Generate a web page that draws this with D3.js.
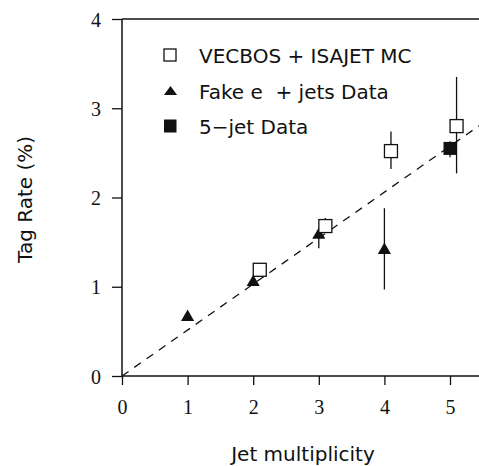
<!DOCTYPE html>
<html>
<head>
<meta charset="utf-8">
<script src="https://cdn.jsdelivr.net/npm/d3@7"></script>
<style>
  html, body { margin: 0; padding: 0; background: #fff; }
  svg { display: block; }
</style>
</head>
<body>
<svg id="chart" width="479" height="466"></svg>
<script>
// Tag rate vs. jet multiplicity
const xTicks = [0, 1, 2, 3, 4, 5];
const yTicks = [0, 1, 2, 3, 4];

// VECBOS + ISAJET Monte Carlo (open squares)
const mcX    = [2.1, 3.1, 4.1, 5.1];
const mcY    = [1.19, 1.68, 2.52, 2.80];
const mcLo   = [1.19, 1.68, 2.32, 2.27];
const mcHi   = [1.19, 1.77, 2.74, 3.35];

// Fake e + jets data (filled triangles)
const fakeX  = [1, 2, 3, 4];
const fakeY  = [0.66, 1.05, 1.58, 1.41];
const fakeLo = [0.66, 1.05, 1.43, 0.97];
const fakeHi = [0.66, 1.05, 1.58, 1.88];

// 5-jet data (filled square)
const fiveX  = [5.0];
const fiveY  = [2.55];
const fiveLo = [2.45];
const fiveHi = [2.63];

// Fitted line through the origin
const fitSlope = 0.515;

const legendLabels = ["VECBOS + ISAJET MC", "Fake e  + jets Data", "5\u2212jet Data"];

const svg = d3.select("#chart");
const pLeft = 122, pTop = 19, pBottom = 376, pRight = 479;
const x = d3.scaleLinear().domain([0, (pRight - pLeft) / 65.6]).range([pLeft, pRight]);
const y = d3.scaleLinear().domain([0, 4]).range([pBottom, pTop]);

const ink = "#111";
const serif = "'Liberation Serif', 'Times New Roman', serif";
const sans = "'DejaVu Sans', sans-serif";

// axes
const xAxis = d3.axisBottom(x).tickValues(xTicks).tickSize(9).tickFormat(d3.format("d"));
const yAxis = d3.axisLeft(y).tickValues(yTicks).tickSize(10).tickFormat(d3.format("d"));

const gx = svg.append("g").attr("transform", `translate(0,${pBottom})`).call(xAxis);
const gy = svg.append("g").attr("transform", `translate(${pLeft},0)`).call(yAxis);
[gx, gy].forEach(g => {
  g.select(".domain").remove();
  g.selectAll("line").attr("stroke", ink).attr("stroke-width", 1.3);
  g.selectAll("text").attr("fill", ink).attr("font-family", serif).attr("font-size", 20);
});
gx.selectAll("text").attr("dy", "1.3em");
gy.selectAll("text").attr("x", -21).attr("dy", "0.35em");

// frame: left, bottom, top
svg.append("line").attr("x1", pLeft).attr("x2", pLeft).attr("y1", pTop).attr("y2", pBottom)
  .attr("stroke", ink).attr("stroke-width", 1.5);
svg.append("line").attr("x1", pLeft).attr("x2", pRight).attr("y1", pBottom).attr("y2", pBottom)
  .attr("stroke", ink).attr("stroke-width", 1.5);
svg.append("line").attr("x1", pLeft).attr("x2", pRight).attr("y1", pTop).attr("y2", pTop)
  .attr("stroke", ink).attr("stroke-width", 1.5);

// fit line
const xEnd = x.domain()[1];
svg.append("line")
  .attr("x1", x(0)).attr("y1", y(0))
  .attr("x2", x(xEnd)).attr("y2", y(fitSlope * xEnd))
  .attr("stroke", ink).attr("stroke-width", 1.3)
  .attr("stroke-dasharray", "8,7");

const plot = svg.append("g");

function errorBars(xs, lo, hi) {
  plot.selectAll(null).data(xs.map((d, i) => i).filter(i => hi[i] > lo[i]))
    .enter().append("line")
    .attr("x1", i => x(xs[i])).attr("x2", i => x(xs[i]))
    .attr("y1", i => y(lo[i])).attr("y2", i => y(hi[i]))
    .attr("stroke", ink).attr("stroke-width", 1.3);
}
errorBars(mcX, mcLo, mcHi);
errorBars(fakeX, fakeLo, fakeHi);
errorBars(fiveX, fiveLo, fiveHi);

const tri = d3.symbol().type(d3.symbolTriangle).size(75);

// triangles
plot.selectAll(null).data(fakeX.map((d, i) => i)).enter().append("path")
  .attr("d", tri)
  .attr("transform", i => `translate(${x(fakeX[i])},${y(fakeY[i])})`)
  .attr("fill", ink);

// filled square
plot.selectAll(null).data(fiveX.map((d, i) => i)).enter().append("rect")
  .attr("x", i => x(fiveX[i]) - 6.5).attr("y", i => y(fiveY[i]) - 6.5)
  .attr("width", 13).attr("height", 13).attr("fill", ink);

// open squares
plot.selectAll(null).data(mcX.map((d, i) => i)).enter().append("rect")
  .attr("x", i => x(mcX[i]) - 6.5).attr("y", i => y(mcY[i]) - 6.5)
  .attr("width", 13).attr("height", 13)
  .attr("fill", "#fff").attr("stroke", ink).attr("stroke-width", 1.3);

// legend
const lg = svg.append("g");
const rowY = [55, 91, 126];
lg.append("rect").attr("x", 164).attr("y", rowY[0] - 6).attr("width", 12).attr("height", 12)
  .attr("fill", "#fff").attr("stroke", ink).attr("stroke-width", 1.3);
lg.append("path").attr("d", tri)
  .attr("transform", `translate(170.5,${rowY[1] + 1}) scale(1,0.78)`).attr("fill", ink);
lg.append("rect").attr("x", 164).attr("y", rowY[2] - 6.5).attr("width", 12.5).attr("height", 13).attr("fill", ink);
lg.selectAll("text").data(legendLabels).enter().append("text")
  .attr("x", 199).attr("y", (d, i) => rowY[i] + 7.5)
  .attr("font-family", sans).attr("font-size", 20).attr("fill", ink)
  .attr("xml:space", "preserve").style("white-space", "pre")
  .text(d => d);

// axis titles
svg.append("text")
  .attr("transform", `translate(32,${(pTop + pBottom) / 2 + 2}) rotate(-90)`)
  .attr("text-anchor", "middle")
  .attr("font-family", sans).attr("font-size", 20).attr("fill", ink)
  .text("Tag Rate (%)");
svg.append("text")
  .attr("x", 303).attr("y", 461)
  .attr("text-anchor", "middle")
  .attr("font-family", sans).attr("font-size", 20).attr("fill", ink)
  .text("Jet multiplicity");
</script>
</body>
</html>
